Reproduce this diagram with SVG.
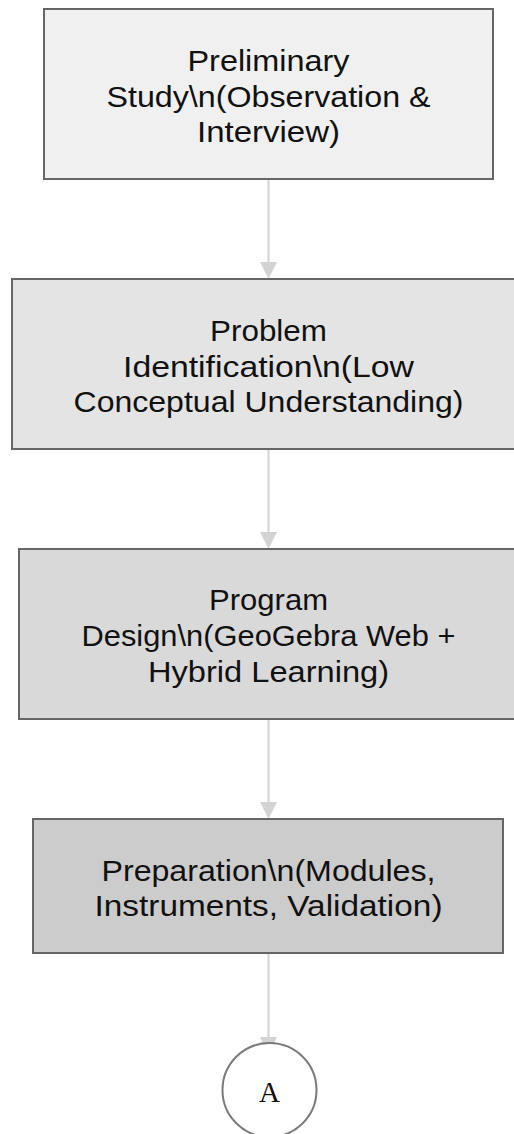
<svg xmlns="http://www.w3.org/2000/svg" width="514" height="1134" viewBox="0 0 514 1134">
<defs>
<style>
.box{stroke:#666;stroke-width:2}
.lbl{font-family:"Liberation Sans",Arial,sans-serif;font-size:29px;fill:#111;text-anchor:middle}
.edge{stroke:#d3d3d3;stroke-width:2;fill:none}
.head{fill:#d3d3d3}
.circ{fill:#fff;stroke:#7a7a7a;stroke-width:2}
.ctext{font-family:"Liberation Serif","Times New Roman",serif;font-size:29px;fill:#111;text-anchor:middle}
</style>
</defs>
<rect width="514" height="1134" fill="#fff"/>
<g id="connectors">
<line class="edge" x1="268.5" y1="179" x2="268.5" y2="263"/>
<polygon class="head" points="260,262 277,262 268.5,279"/>
<line class="edge" x1="268.5" y1="449" x2="268.5" y2="533"/>
<polygon class="head" points="260,532 277,532 268.5,549"/>
<line class="edge" x1="268.5" y1="719" x2="268.5" y2="803"/>
<polygon class="head" points="260,802 277,802 268.5,819"/>
<line class="edge" x1="268.5" y1="953" x2="268.5" y2="1038"/>
<polygon class="head" points="260,1037 277,1037 268.5,1054"/>
</g>
<g id="node1">
<rect class="box" x="44" y="9" width="449" height="170" fill="#f0f0f0"/>
<text class="lbl" x="268.5" y="71" textLength="162" lengthAdjust="spacingAndGlyphs">Preliminary</text>
<text class="lbl" x="268.5" y="107" textLength="324" lengthAdjust="spacingAndGlyphs">Study\n(Observation &amp;</text>
<text class="lbl" x="268.5" y="142" textLength="143" lengthAdjust="spacingAndGlyphs">Interview)</text>
</g>
<g id="node2">
<rect class="box" x="12" y="279" width="513" height="170" fill="#e4e4e4"/>
<text class="lbl" x="268.5" y="341" textLength="117" lengthAdjust="spacingAndGlyphs">Problem</text>
<text class="lbl" x="268.5" y="377" textLength="291" lengthAdjust="spacingAndGlyphs">Identification\n(Low</text>
<text class="lbl" x="268.5" y="412" textLength="390" lengthAdjust="spacingAndGlyphs">Conceptual Understanding)</text>
</g>
<g id="node3">
<rect class="box" x="19" y="549" width="499" height="170" fill="#d9d9d9"/>
<text class="lbl" x="268.5" y="610" textLength="119" lengthAdjust="spacingAndGlyphs">Program</text>
<text class="lbl" x="268.5" y="646" textLength="374" lengthAdjust="spacingAndGlyphs">Design\n(GeoGebra Web +</text>
<text class="lbl" x="268.5" y="682" textLength="241" lengthAdjust="spacingAndGlyphs">Hybrid Learning)</text>
</g>
<g id="node4">
<rect class="box" x="33" y="819" width="470" height="134" fill="#cccccc"/>
<text class="lbl" x="268.5" y="881" textLength="334" lengthAdjust="spacingAndGlyphs">Preparation\n(Modules,</text>
<text class="lbl" x="268.5" y="916" textLength="348" lengthAdjust="spacingAndGlyphs">Instruments, Validation)</text>
</g>
<g id="nodeA">
<circle class="circ" cx="269.5" cy="1090" r="47"/>
<text class="ctext" x="269.5" y="1102">A</text>
</g>
</svg>
